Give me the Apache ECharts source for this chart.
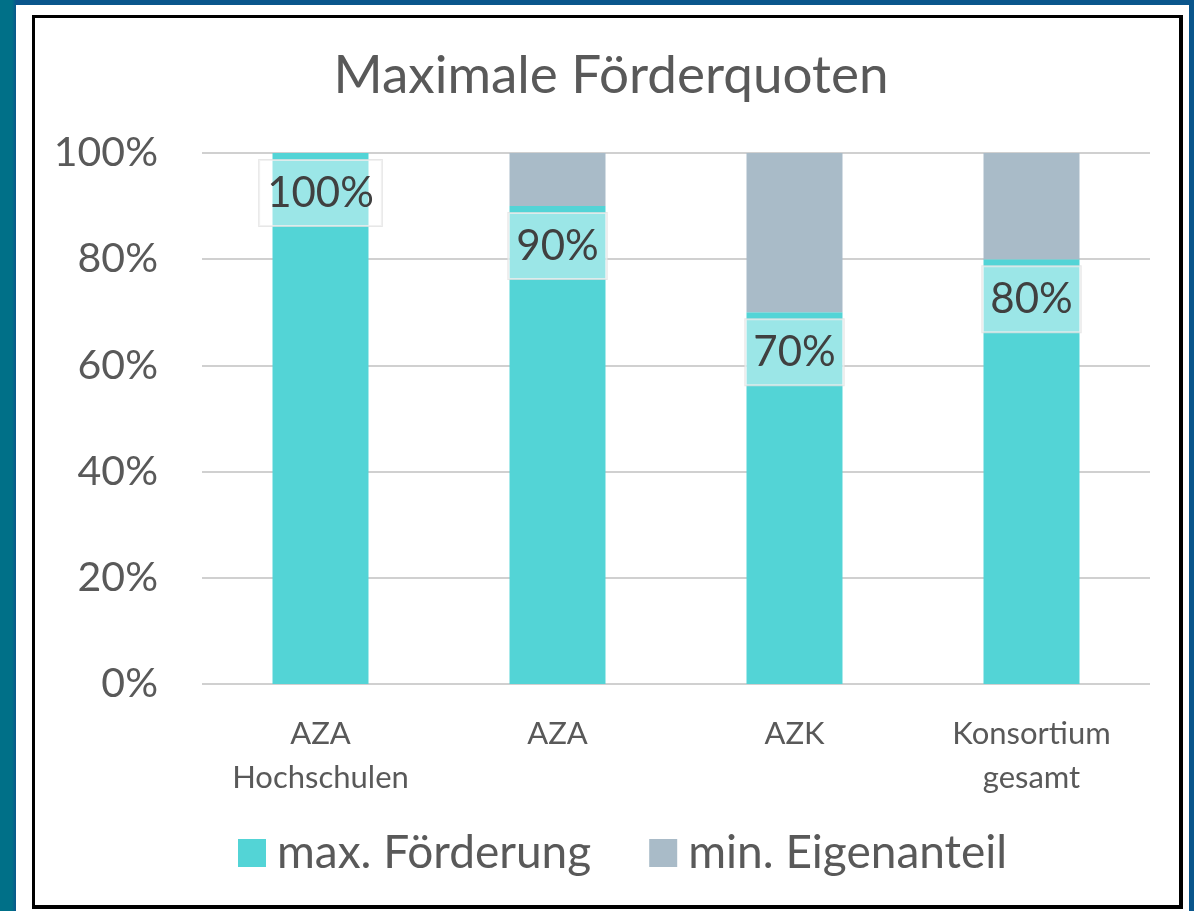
<!DOCTYPE html>
<html>
<head>
<meta charset="utf-8">
<script src="https://cdn.jsdelivr.net/npm/echarts@6/dist/echarts.min.js"></script>
<style>
  html, body { margin: 0; padding: 0; }
  body {
    width: 1194px; height: 911px; overflow: hidden;
    background: linear-gradient(90deg, #007088 0px, #007088 12px, #0a568c 16px, #0a568c 100%);
    position: relative;
  }
  .panel {
    position: absolute; left: 16px; top: 5px; width: 1173px; height: 906px;
    background: #ffffff;
  }
  .box {
    position: absolute; left: 32px; top: 15px; width: 1144px; height: 887px;
    border: 3px solid #000000; border-right-width: 4px; border-bottom-width: 4px;
  }
  #chart { position: absolute; left: 0; top: 0; width: 1194px; height: 911px; }
</style>
</head>
<body>
<div class="panel"></div>
<div class="box"></div>
<div id="chart"></div>
<script>
// Daten
const categories = ['AZA\nHochschulen', 'AZA', 'AZK', 'Konsortium\ngesamt']
const maxFoerderung = [100, 90, 70, 80]
const minEigenanteil = [0, 10, 30, 20]
const seriesNames = ['max. Förderung', 'min. Eigenanteil']

const chart = echarts.init(document.getElementById('chart'))
const font = 'Lato, "Open Sans", sans-serif'

const option = {
  backgroundColor: 'transparent',
  animation: false,
  title: {
    text: 'Maximale Förderquoten',
    left: 606,
    textAlign: 'center',
    top: 44,
    textStyle: {
      fontFamily: font,
      fontSize: 53,
      fontWeight: 'normal',
      color: '#595959'
    }
  },
  legend: {
    data: seriesNames,
    left: 233,
    top: 825,
    itemWidth: 28,
    itemHeight: 28,
    itemGap: 58,
    icon: 'rect',
    textStyle: {
      fontFamily: font,
      fontSize: 46,
      color: '#595959',
      padding: [0, 0, 0, 6]
    }
  },
  grid: {
    left: 202,
    right: 44,
    top: 153,
    bottom: 227
  },
  xAxis: {
    type: 'category',
    data: categories,
    axisLine: { show: false },
    axisTick: { show: false },
    axisLabel: {
      fontFamily: font,
      fontSize: 31,
      lineHeight: 44,
      color: '#595959',
      margin: 28,
      verticalAlign: 'top'
    }
  },
  yAxis: {
    type: 'value',
    min: 0,
    max: 100,
    interval: 20,
    axisLine: { show: false },
    axisTick: { show: false },
    axisLabel: {
      formatter: '{value}%',
      fontFamily: font,
      fontSize: 41,
      color: '#595959',
      margin: 44
    },
    splitLine: {
      lineStyle: { color: '#d0d0d0', width: 2 }
    }
  },
  series: [
    {
      name: seriesNames[0],
      type: 'bar',
      stack: 'total',
      barWidth: '40.5%',
      data: maxFoerderung,
      itemStyle: { color: '#53d4d6' },
      label: {
        show: true,
        position: 'insideTop',
        distance: 7,
        formatter: '{c}%',
        fontFamily: font,
        fontSize: 42,
        lineHeight: 46,
        color: '#404040',
        backgroundColor: 'rgba(255,255,255,0.42)',
        borderColor: 'rgba(225,225,225,0.8)',
        borderWidth: 1,
        padding: [10, 8, 10, 8]
      }
    },
    {
      name: seriesNames[1],
      type: 'bar',
      stack: 'total',
      data: minEigenanteil,
      itemStyle: { color: '#a9bbc8' }
    }
  ]
}

chart.setOption(option)
</script>
</body>
</html>
